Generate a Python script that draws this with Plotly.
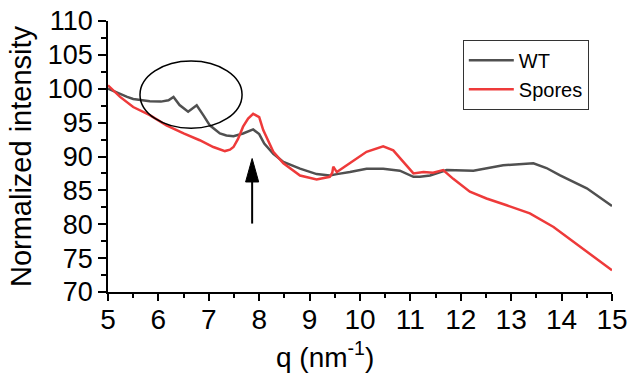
import plotly.graph_objects as go

# ---- data ----
wt_q = [5.0, 5.12, 5.24, 5.38, 5.5, 5.65, 5.83, 6.05, 6.2, 6.3, 6.42, 6.59, 6.76, 6.9, 7.02, 7.22,
        7.35, 7.49, 7.68, 7.88, 8.0, 8.1, 8.28, 8.48, 8.81, 9.14, 9.40, 9.54, 9.80, 10.13, 10.46,
        10.79, 11.06, 11.19, 11.39, 11.72, 12.25, 12.84, 13.44, 13.7, 13.97, 14.50, 15.0]
wt_i = [100.0, 99.6, 99.3, 98.8, 98.5, 98.3, 98.15, 98.1, 98.3, 98.8, 97.6, 96.6, 97.55, 96.0, 94.6,
        93.4, 93.1, 93.0, 93.4, 94.0, 93.3, 91.9, 90.4, 89.2, 88.2, 87.4, 87.2, 87.4, 87.7, 88.2,
        88.2, 87.9, 87.0, 87.0, 87.2, 88.0, 87.9, 88.7, 89.0, 88.3, 87.2, 85.3, 82.7]

sp_q = [5.0, 5.24, 5.5, 5.83, 6.16, 6.5, 6.82, 7.09, 7.32, 7.42, 7.49, 7.58, 7.68, 7.78, 7.88, 8.0,
        8.08, 8.28, 8.48, 8.81, 9.14, 9.40, 9.45, 9.47, 9.54, 9.80, 10.13, 10.46, 10.66, 10.86,
        11.06, 11.26, 11.45, 11.65, 11.85, 12.18, 12.51, 12.91, 13.37, 13.84, 14.30, 15.0]
sp_i = [100.5, 98.8, 97.3, 96.1, 94.6, 93.4, 92.4, 91.4, 90.8, 91.0, 91.4, 92.6, 94.4, 95.6, 96.3,
        95.8, 93.9, 90.7, 89.0, 87.2, 86.6, 87.0, 87.6, 88.5, 87.7, 89.0, 90.7, 91.5, 90.9, 89.2,
        87.5, 87.7, 87.6, 88.0, 86.7, 84.8, 83.8, 82.8, 81.6, 79.6, 77.1, 73.2]

x_ticks = [5, 6, 7, 8, 9, 10, 11, 12, 13, 14, 15]
y_ticks = [70, 75, 80, 85, 90, 95, 100, 105, 110]

FONT = "Arial, Liberation Sans, sans-serif"

fig = go.Figure()
fig.add_trace(go.Scatter(x=wt_q, y=wt_i, mode="lines", name="WT",
                         line=dict(color="#505050", width=2.5)))
fig.add_trace(go.Scatter(x=sp_q, y=sp_i, mode="lines", name="Spores",
                         line=dict(color="#ee3a3a", width=2.5)))

# ellipse around WT features
fig.add_shape(type="circle", xref="x", yref="y", x0=5.635, x1=7.66, y0=94.16, y1=104.1,
              line=dict(color="black", width=1.5))

# arrow pointing at the peak: shaft + narrow head
fig.add_shape(type="line", xref="x", yref="y", x0=7.86, x1=7.86, y0=80.1, y1=86.5,
              line=dict(color="black", width=2))
fig.add_shape(type="path", xref="x", yref="y",
              path="M 7.73 86.24 L 7.99 86.24 L 7.86 89.7 Z",
              fillcolor="black", line=dict(color="black", width=1))

# x-axis title (sits left of centre in the reference)
fig.add_annotation(text="q (nm<sup>-1</sup>)", xref="paper", yref="paper", x=0.4315, y=-0.232,
                   xanchor="center", yanchor="middle", showarrow=False,
                   font=dict(size=28, family=FONT, color="black"))

fig.update_layout(
    width=630, height=376,
    margin=dict(l=108, r=18, t=21, b=84),
    paper_bgcolor="white", plot_bgcolor="white",
    font=dict(family=FONT, color="black"),
    showlegend=True,
    legend=dict(x=0.704, y=0.931, xanchor="left", yanchor="top",
                bordercolor="#333333", borderwidth=1, bgcolor="white",
                font=dict(size=20, family=FONT), tracegroupgap=0, itemwidth=45),
    xaxis=dict(range=[5, 15], tickvals=x_ticks, showline=True, linecolor="black", linewidth=1.5,
               ticks="outside", ticklen=7, tickwidth=1.5, tickcolor="black",
               minor=dict(ticks="outside", ticklen=4, tickwidth=1.5, tickcolor="black", dtick=0.5),
               showgrid=False, zeroline=False, tickfont=dict(size=28, family=FONT),
               automargin=False, ticklabelstandoff=-5, ticklabeloverflow="allow"),
    yaxis=dict(range=[70, 110], tickvals=y_ticks, showline=True, linecolor="black", linewidth=1.5,
               ticks="outside", ticklen=8, tickwidth=1.5, tickcolor="black",
               minor=dict(ticks="outside", ticklen=5, tickwidth=1.5, tickcolor="black", dtick=2.5),
               showgrid=False, zeroline=False, tickfont=dict(size=27, family=FONT),
               automargin=False, ticklabeloverflow="allow",
               title=dict(text="Normalized intensity", font=dict(size=29, family=FONT), standoff=8)),
)

# remove the browser's default 8px body margin so the figure fills the window exactly
fig.write_html("out.html", config={"displayModeBar": False},
               post_script="document.body.style.margin='0';")
